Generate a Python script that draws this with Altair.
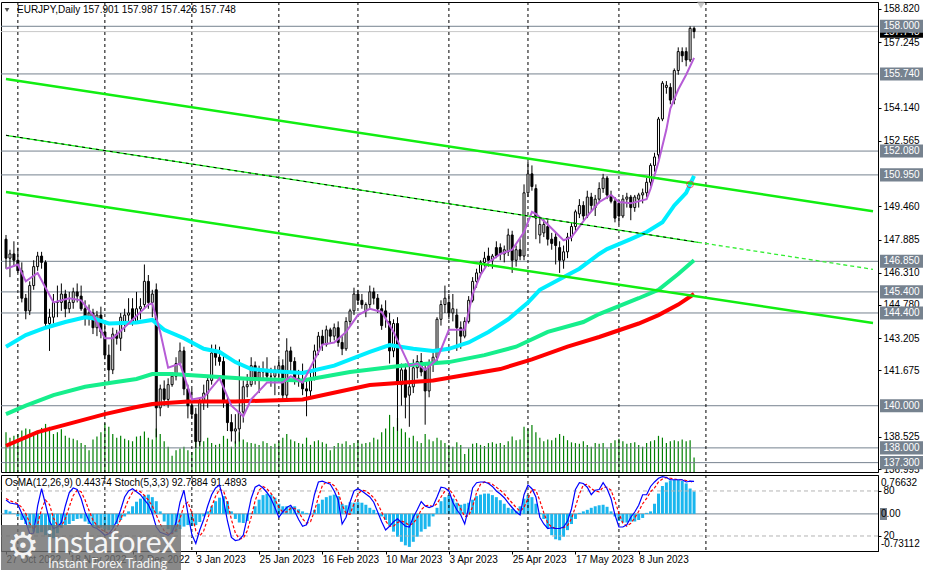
import altair as alt
import pandas as pd

FONT = "Liberation Sans"

# ---------------- data ----------------
FIRST_DAY = "2022-10-27"

OPEN = [147.9, 147.0, 147.2, 146.9, 146.4, 145.1, 144.5, 145.7, 146.6, 147.1,
        146.8, 143.9, 144.2, 144.9, 144.9, 145.3, 144.6, 144.9, 145.4, 145.2,
        144.6, 144.2, 144.4, 143.7, 144.3, 143.5, 142.4, 141.7, 143.4, 143.2,
        144.0, 144.3, 144.6, 144.0, 144.6, 144.8, 145.9, 144.9, 145.5, 139.9,
        140.8, 140.3, 141.0, 141.4, 142.0, 142.6, 140.8, 140.0, 139.6, 138.3,
        140.2, 140.6, 141.2, 142.5, 142.3, 142.1, 140.2, 139.2, 138.8, 138.9,
        139.7, 140.9, 141.0, 141.9, 141.3, 141.6, 141.7, 141.4, 141.4, 141.7,
        141.9, 140.5, 142.6, 142.1, 141.3, 141.2, 140.8, 140.7, 141.3, 142.6,
        143.3, 142.9, 143.6, 143.3, 143.7, 143.0, 142.7, 144.0, 144.5, 145.3,
        145.0, 144.5, 144.8, 145.4, 145.1, 144.6, 144.5, 144.0, 142.6, 143.9,
        141.0, 141.7, 140.5, 140.9, 141.8, 142.1, 141.7, 140.7, 142.0, 142.3,
        144.1, 144.8, 144.9, 144.4, 144.3, 143.7, 143.3, 144.0, 145.0, 145.9,
        146.3, 146.8, 147.1, 146.9, 147.5, 147.5, 147.2, 147.3, 148.1, 146.9,
        147.4, 147.1, 150.1, 151.0, 150.3, 148.1, 148.2, 148.5, 147.9, 148.0,
        147.5, 146.9, 147.3, 148.0, 148.5, 149.1, 149.5, 149.0, 149.9, 149.4,
        149.8, 150.3, 150.8, 150.0, 149.7, 149.6, 149.0, 149.8, 149.9, 149.4,
        149.8, 150.0, 150.1, 150.6, 151.4, 151.9, 153.6, 155.1, 155.1, 154.5,
        155.9, 156.8, 156.8, 156.4, 157.901]
HIGH = [148.1, 147.4, 147.8, 147.5, 146.8, 145.3, 145.9, 146.9, 147.3, 147.3,
        146.9, 144.6, 145.3, 145.7, 145.8, 145.5, 145.4, 145.6, 145.8, 145.7,
        145.0, 144.8, 144.6, 144.5, 144.7, 143.9, 142.9, 143.7, 143.6, 144.4,
        144.6, 145.1, 145.1, 145.4, 145.1, 146.7, 146.2, 145.5, 145.8, 141.0,
        141.2, 141.3, 141.6, 142.3, 143.0, 142.8, 141.0, 140.8, 139.9, 140.4,
        141.0, 141.4, 142.9, 142.9, 142.8, 142.4, 140.5, 139.6, 139.6, 142.2,
        141.2, 141.5, 142.3, 142.1, 141.9, 142.1, 142.3, 141.8, 141.9, 142.2,
        142.2, 143.2, 142.8, 142.3, 141.7, 142.0, 141.3, 141.6, 142.9, 143.5,
        143.6, 143.8, 143.7, 143.9, 144.0, 143.3, 144.2, 144.6, 145.6, 145.5,
        145.3, 144.9, 145.7, 145.6, 145.3, 144.8, 145.0, 144.4, 144.1, 144.2,
        142.0, 142.0, 141.9, 142.2, 142.4, 142.5, 142.0, 142.2, 142.5, 144.2,
        145.0, 145.7, 145.3, 145.3, 144.6, 144.0, 144.2, 145.2, 146.1, 146.5,
        146.9, 147.3, 147.5, 147.2, 147.8, 147.7, 147.6, 148.4, 148.3, 147.6,
        147.9, 150.5, 151.6, 151.4, 150.5, 148.9, 148.9, 148.8, 148.2, 148.2,
        147.8, 147.6, 148.2, 148.7, 149.3, 149.8, 149.7, 150.2, 150.1, 150.0,
        150.6, 151.0, 150.9, 150.2, 149.9, 149.8, 150.0, 150.1, 150.0, 150.0,
        150.1, 150.3, 150.8, 151.5, 152.0, 153.7, 155.4, 155.4, 155.3, 156.0,
        157.0, 157.0, 157.0, 158.0, 157.987]
LOW = [146.5, 146.1, 146.6, 146.3, 144.9, 144.1, 144.3, 145.5, 146.4, 146.5,
       143.7, 142.6, 143.9, 144.2, 144.5, 144.2, 144.4, 144.6, 144.9, 144.5,
       143.8, 143.8, 143.4, 143.3, 143.2, 142.2, 141.0, 141.5, 142.9, 142.6,
       143.5, 143.9, 143.8, 143.9, 144.1, 144.6, 144.6, 144.2, 138.5, 139.5,
       140.0, 139.9, 140.9, 141.2, 141.9, 140.5, 139.4, 139.4, 138.0, 138.1,
       139.8, 139.9, 141.0, 141.9, 141.9, 139.9, 138.8, 138.3, 138.2, 138.3,
       139.2, 140.4, 140.9, 141.0, 140.6, 141.2, 141.3, 140.9, 140.5, 141.2,
       140.2, 140.2, 141.6, 141.0, 140.9, 140.5, 139.5, 140.4, 141.2, 142.4,
       142.6, 142.8, 143.0, 143.1, 142.8, 142.4, 142.6, 143.8, 144.3, 144.8,
       144.6, 144.2, 144.6, 144.8, 144.4, 143.6, 143.7, 142.0, 142.3, 138.8,
       140.0, 139.4, 139.0, 140.6, 141.3, 141.4, 139.1, 140.4, 141.6, 142.1,
       143.8, 144.4, 144.1, 144.0, 142.6, 142.7, 143.2, 143.9, 144.9, 145.6,
       146.1, 146.6, 146.6, 146.5, 147.0, 146.9, 146.8, 147.1, 146.3, 146.6,
       146.9, 146.9, 149.9, 150.2, 147.9, 147.7, 148.0, 147.6, 147.4, 146.7,
       146.3, 146.5, 147.0, 147.8, 148.3, 148.9, 148.8, 148.9, 149.2, 149.0,
       149.6, 150.1, 149.8, 149.6, 148.7, 148.6, 148.9, 149.4, 148.8, 149.2,
       149.4, 149.6, 149.9, 150.4, 151.1, 151.7, 153.5, 154.8, 154.3, 154.3,
       155.7, 156.3, 156.1, 156.3, 157.426]
CLOSE = [147.0, 147.2, 146.9, 146.4, 145.1, 144.5, 145.7, 146.6, 147.1, 146.8,
         143.9, 144.2, 144.9, 144.9, 145.3, 144.6, 144.9, 145.4, 145.2, 144.6,
         144.2, 144.4, 143.7, 144.3, 143.5, 142.4, 141.7, 143.4, 143.2, 144.2,
         144.3, 144.4, 144.0, 144.6, 144.7, 145.9, 144.9, 145.3, 139.9, 140.8,
         140.3, 141.0, 141.4, 142.0, 142.6, 140.8, 140.0, 139.6, 138.3, 140.2,
         140.6, 141.2, 142.5, 142.3, 142.1, 140.2, 139.2, 138.8, 138.9, 139.7,
         140.9, 141.0, 141.9, 141.3, 141.6, 141.7, 141.4, 141.4, 141.7, 141.9,
         140.5, 142.6, 142.1, 141.3, 141.2, 140.8, 140.7, 141.3, 142.6, 143.3,
         142.9, 143.6, 143.3, 143.7, 143.0, 142.7, 144.0, 144.5, 145.3, 145.0,
         144.8, 144.8, 145.4, 145.1, 144.6, 143.8, 144.2, 142.6, 143.9, 141.1,
         141.7, 140.4, 140.9, 141.8, 142.1, 141.6, 140.7, 142.0, 142.3, 144.1,
         144.8, 145.1, 144.4, 144.6, 143.7, 143.3, 144.0, 145.0, 145.9, 146.3,
         146.8, 147.0, 146.9, 147.1, 147.1, 147.2, 147.4, 148.1, 146.9, 147.4,
         147.1, 150.1, 151.0, 150.4, 148.9, 148.6, 148.6, 147.9, 147.7, 147.6,
         146.9, 147.3, 148.0, 148.5, 149.2, 149.5, 149.0, 149.9, 149.5, 149.8,
         150.3, 150.8, 150.0, 149.7, 148.9, 149.0, 149.8, 149.9, 149.4, 149.9,
         150.0, 150.1, 150.6, 151.4, 151.8, 153.6, 155.3, 155.2, 154.5, 155.9,
         156.8, 156.6, 156.4, 157.9, 157.748]
VOLUME = [110, 95, 100, 105, 115, 120, 118, 100, 112, 122,
          133, 125, 105, 110, 118, 100, 95, 92, 88, 80,
          75, 60, 90, 98, 110, 135, 125, 105, 95, 100,
          92, 88, 85, 98, 100, 112, 95, 90, 120, 105,
          85, 70, 45, 60, 65, 70, 60, 55, 95, 90,
          85, 95, 80, 75, 78, 100, 92, 70, 85, 110,
          90, 82, 80, 78, 75, 85, 80, 72, 78, 85,
          95, 105, 90, 85, 80, 78, 95, 75, 85, 88,
          82, 78, 60, 72, 80, 78, 85, 75, 80, 88,
          78, 80, 82, 95, 90, 110, 120, 158, 125, 150,
          120, 110, 95, 100, 85, 80, 105, 90, 85, 95,
          88, 80, 75, 70, 82, 75, 50, 65, 78, 80,
          75, 72, 80, 82, 78, 80, 75, 85, 98, 88,
          90, 125, 120, 130, 110, 95, 85, 90, 88, 95,
          105, 100, 88, 82, 80, 78, 85, 75, 70, 80,
          78, 80, 65, 80, 88, 92, 85, 78, 80, 82,
          75, 70, 80, 85, 88, 100, 95, 80, 85, 88,
          85, 90, 85, 88, 40]
OSMA = [0.08, 0.05, 0.01, -0.05, -0.12, -0.2, -0.28, -0.35, -0.38, -0.36,
        -0.42, -0.5, -0.48, -0.38, -0.28, -0.22, -0.2, -0.14, -0.1, -0.09,
        -0.15, -0.2, -0.25, -0.28, -0.27, -0.3, -0.32, -0.27, -0.2, -0.12,
        -0.05, 0.05, 0.15, 0.24, 0.3, 0.36, 0.38, 0.33, 0.25, 0.05,
        -0.15, -0.3, -0.38, -0.36, -0.3, -0.25, -0.22, -0.24, -0.22, -0.16,
        -0.05, 0.05, 0.15, 0.25, 0.32, 0.35, 0.25, 0.05, -0.1, -0.17,
        -0.18, -0.14, 0.02, 0.15, 0.28, 0.37, 0.4, 0.38, 0.32, 0.2,
        0.15, 0.15, 0.14, 0.15, 0.09, 0.05, 0.02, 0.0, 0.08, 0.2,
        0.28, 0.33, 0.36, 0.38, 0.35, 0.2, 0.17, 0.23, 0.22, 0.23,
        0.22, 0.18, 0.12, 0.08, 0.02, -0.05, -0.12, -0.22, -0.35, -0.45,
        -0.55, -0.62, -0.65, -0.55, -0.45, -0.35, -0.3, -0.25, -0.05, 0.12,
        0.25, 0.33, 0.37, 0.3, 0.22, 0.18, 0.2, 0.22, 0.28, 0.35,
        0.38, 0.4, 0.4, 0.37, 0.33, 0.27, 0.2, 0.12, 0.1, 0.06,
        0.15, 0.3, 0.37, 0.33, 0.2, 0.02, -0.1, -0.28, -0.42, -0.5,
        -0.52, -0.45, -0.32, -0.2, -0.1, 0.02, 0.05, 0.08, 0.12, 0.15,
        0.17, 0.18, 0.14, 0.05, -0.05, -0.14, -0.17, -0.17, -0.15, -0.15,
        -0.12, -0.08, 0.02, 0.05, 0.2, 0.4, 0.55, 0.62, 0.66, 0.67,
        0.67, 0.65, 0.6, 0.5, 0.44374]
STOCH_MAIN = [68, 64, 63, 62, 50, 39, 23, 24, 60, 83,
              62, 40, 30, 32, 38, 60, 78, 84, 82, 70,
              52, 40, 32, 30, 26, 21, 23, 30, 40, 55,
              72, 80, 83, 79, 75, 68, 62, 50, 32, 25,
              23, 21, 25, 38, 65, 81, 50, 22, 10, 28,
              42, 60, 75, 84, 88, 68, 40, 18, 14, 15,
              21, 45, 70, 85, 88, 84, 78, 70, 58, 45,
              52, 58, 61, 53, 42, 33, 35, 50, 75, 92,
              93, 91, 89, 80, 68, 36, 45, 65, 80, 83,
              80, 76, 72, 65, 52, 39, 28, 33, 39, 43,
              38, 33, 32, 45, 55, 66, 60, 58, 60, 72,
              85, 84, 80, 65, 55, 48, 36, 58, 84, 91,
              92, 92, 90, 86, 80, 76, 71, 64, 58, 52,
              48, 75, 88, 83, 72, 45, 36, 30, 31, 30,
              30, 32, 40, 56, 82, 91, 90, 85, 75, 81,
              82, 91, 83, 70, 48, 32, 32, 35, 45, 52,
              61, 75, 75, 86, 92, 97, 99, 98, 95, 95,
              95, 95, 92, 93, 92.7884]
STOCH_SIGNAL = [70, 67, 65, 63, 58, 50, 37, 29, 36, 56,
                68, 62, 44, 34, 33, 43, 59, 74, 81, 79,
                68, 54, 41, 34, 29, 26, 23, 25, 31, 42,
                56, 69, 78, 81, 79, 74, 68, 60, 48, 36,
                27, 23, 23, 28, 43, 61, 65, 51, 27, 20,
                27, 43, 59, 73, 82, 80, 65, 42, 24, 16,
                17, 27, 45, 67, 81, 86, 83, 77, 69, 58,
                52, 52, 57, 57, 52, 43, 37, 39, 53, 72,
                87, 92, 91, 87, 79, 61, 50, 49, 63, 76,
                81, 80, 76, 71, 63, 52, 40, 33, 33, 38,
                40, 38, 34, 37, 44, 55, 60, 61, 59, 63,
                72, 80, 83, 76, 67, 56, 46, 47, 59, 78,
                89, 92, 91, 89, 85, 81, 76, 70, 64, 58,
                53, 58, 70, 82, 81, 67, 51, 37, 32, 30,
                30, 31, 34, 43, 59, 76, 88, 89, 83, 80,
                79, 85, 85, 81, 67, 50, 37, 33, 37, 44,
                53, 63, 70, 79, 84, 92, 96, 98, 97, 96,
                95, 95, 94, 93, 91.4893]

# moving averages, read at sample bars
PURPLE_IDX = [0, 3, 5, 8, 12, 16, 19, 22, 25, 27, 31, 36, 37, 39, 41, 44, 47, 50, 54, 57,
              60, 62, 66, 70, 72, 75, 80, 83, 86, 89, 92, 95, 98, 102, 104, 106, 109, 112,
              116, 117, 118, 120, 122, 125, 128, 131, 133, 134, 137, 141, 143, 147, 150,
              153, 155, 158, 162, 163, 165, 167, 168, 170, 172, 174]
PURPLE_VAL = [146.5, 146.7, 145.9, 146.3, 144.9, 145.1, 145.0, 144.3, 143.2, 143.2, 143.9,
              144.8, 144.85, 143.5, 141.8, 142.0, 140.3, 140.4, 141.3, 140.0, 139.5, 140.3,
              141.1, 141.1, 141.4, 141.1, 142.9, 143.0, 143.5, 144.3, 144.6, 144.45, 143.5,
              141.9, 142.0, 141.7, 142.2, 143.6, 143.6, 144.45, 145.3, 146.2, 146.8, 147.2,
              147.4, 148.24, 149.2, 149.1, 148.6, 147.85, 148.0, 149.0, 149.66, 150.0,
              149.66, 149.6, 149.8, 150.3, 151.56, 153.1, 154.1, 155.0, 155.7, 156.5]
CYAN_IDX = [0, 5, 10, 15, 20, 22, 26, 33, 37, 40, 45, 50, 54, 58, 62, 67, 75, 83, 92, 97,
            103, 108, 112, 117, 122, 127, 132, 135, 140, 145, 150, 152, 158, 162, 166, 169,
            172, 174]
CYAN_VAL = [142.8, 143.35, 143.7, 143.97, 144.2, 144.15, 143.9, 143.95, 144.07, 143.6, 143.2,
            142.7, 142.55, 142.07, 141.74, 141.65, 141.55, 141.9, 142.55, 142.88, 142.7,
            142.6, 142.7, 143.0, 143.5, 144.1, 144.9, 145.5, 146.0, 146.5, 147.2, 147.43,
            147.9, 148.24, 148.7, 149.5, 150.1, 150.9]
GREEN_IDX = [0, 5, 12, 20, 27, 33, 37, 42, 47, 54, 62, 75, 87, 100, 112, 121, 129, 137, 146,
             150, 160, 165, 170, 174]
GREEN_VAL = [139.6, 140.0, 140.5, 140.9, 141.1, 141.27, 141.5, 141.5, 141.45, 141.36, 141.27,
             141.2, 141.6, 141.9, 142.07, 142.4, 142.8, 143.5, 143.97, 144.35, 145.1, 145.5,
             146.25, 146.9]
RED_IDX = [0, 8, 17, 25, 33, 37, 46, 58, 75, 92, 108, 125, 133, 142, 150, 160, 165, 170, 174]
RED_VAL = [138.1, 138.75, 139.2, 139.6, 139.94, 140.08, 140.2, 140.2, 140.3, 140.98, 141.2,
           141.74, 142.2, 142.8, 143.26, 143.9, 144.3, 144.8, 145.3]

# trend channel: price at the left and right edge of the view
TREND_UPPER = [155.50, 149.23]
TREND_MID = [152.83, 146.47]
TREND_LOWER = [150.14, 143.92]
MARKER = [173, 150.5]

LEVELS = [158.000, 155.740, 152.080, 150.950, 146.850, 145.400, 144.400, 140.000, 138.000, 137.300]
BID = 157.748
PRICE_TICKS = [158.820, 157.245, 154.140, 152.565, 149.460, 147.885, 146.310, 144.780,
               143.205, 141.675, 138.525, 136.995]
TICK_DATES = ["2022-10-27", "2022-11-18", "2022-12-12", "2023-01-03", "2023-01-25", "2023-02-16",
              "2023-03-10", "2023-04-03", "2023-04-25", "2023-05-17", "2023-06-08"]
TICK_LABELS = ["27 Oct 2022", "18 Nov 2022", "12 Dec 2022", "3 Jan 2023", "25 Jan 2023",
               "16 Feb 2023", "10 Mar 2023", "3 Apr 2023", "25 Apr 2023", "17 May 2023",
               "8 Jun 2023"]
MONTH_GRID_DATES = ["2022-11-01", "2022-12-01", "2023-01-02", "2023-02-01", "2023-03-01",
                    "2023-04-03", "2023-05-01", "2023-06-01", "2023-07-03"]
TITLE = "EURJPY,Daily  157.901 157.987 157.426 157.748"
SUBTITLE = "OsMA(12,26,9) 0.44374  Stoch(5,3,3) 92.7884 91.4893"

# ---------------- layout ----------------
W = 877
H_MAIN = 470
H_LOW = 76
X_MAX = W / 4.0
P_DOMAIN = [136.856, 159.152]
OSMA_DOMAIN = [-0.73112, 0.76632]
STOCH_DOMAIN = [0, 101.3]
LEVEL_COLOR = "#76828f"

calendar = pd.bdate_range(FIRST_DAY, "2023-09-29")
pos = {d.strftime("%Y-%m-%d"): k for k, d in enumerate(calendar)}
tick_idx = [pos[d] for d in TICK_DATES]
grid_idx = [pos[d] for d in MONTH_GRID_DATES]
label_expr = "".join(f"datum.value == {k} ? '{t}' : " for k, t in zip(tick_idx, TICK_LABELS)) + "''"

n = len(OPEN)
bars = pd.DataFrame({"i": list(range(n)), "o": OPEN, "h": HIGH, "l": LOW, "c": CLOSE,
                     "v": VOLUME, "osma": OSMA, "k": STOCH_MAIN, "d": STOCH_SIGNAL})
bars["up"] = bars["c"] >= bars["o"]

xscale = alt.Scale(domain=[0, X_MAX], nice=False, zero=False)
pscale = alt.Scale(domain=P_DOMAIN, nice=False, zero=False)
price_axis = alt.Axis(orient="right", values=PRICE_TICKS, format=".3f", title=None, grid=False,
                      labelFontSize=10, labelFont=FONT, labelColor="black", tickSize=3,
                      tickColor="black", domainColor="black", labelPadding=2,
                      labelOverlap=False, labelFlush=False)


def XM(field="i"):
    return alt.X(f"{field}:Q", scale=xscale, axis=None)


def YP(field):
    return alt.Y(f"{field}:Q", scale=pscale, axis=price_axis)


# ---------- main panel ----------
levels_df = pd.DataFrame({"p": LEVELS})
bid_df = pd.DataFrame({"p": [BID]})
grid_df = pd.DataFrame({"i": grid_idx})

level_lines = alt.Chart(levels_df).mark_rule(color=LEVEL_COLOR, strokeWidth=1).encode(y=YP("p"))
bid_line = alt.Chart(bid_df).mark_rule(color="#c8c8c8", strokeWidth=1).encode(y=YP("p"))
grid_lines = alt.Chart(grid_df).mark_rule(color="black", strokeWidth=1, strokeDash=[3, 3]).encode(x=XM("i"))

wicks = alt.Chart(bars).mark_rule(color="black", strokeWidth=1, clip=True).encode(
    x=XM("i"), y=YP("l"), y2=alt.Y2("h:Q"))
bodies = alt.Chart(bars).mark_bar(size=2, stroke="black", strokeWidth=1, clip=True).encode(
    x=XM("i"), y=YP("o"), y2=alt.Y2("c:Q"),
    fill=alt.condition("datum.up", alt.value("white"), alt.value("black")))


def ma_line(idx, vals, color, width):
    df = pd.DataFrame({"i": idx, "p": vals})
    return alt.Chart(df).mark_line(color=color, strokeWidth=width, clip=True).encode(
        x=XM("i"), y=YP("p"))


ma_red = ma_line(RED_IDX, RED_VAL, "#ff0000", 4)
ma_green = ma_line(GREEN_IDX, GREEN_VAL, "#16ee8c", 4)
ma_cyan = ma_line(CYAN_IDX, CYAN_VAL, "#00eeff", 4)
ma_purple = ma_line(PURPLE_IDX, PURPLE_VAL, "#b65cd6", 2)


def trend(vals, i0, i1, color, width, dash=None):
    a, b = vals
    p0 = a + (b - a) * i0 / X_MAX
    p1 = a + (b - a) * i1 / X_MAX
    df = pd.DataFrame({"i": [i0, i1], "p": [p0, p1]})
    kw = dict(color=color, strokeWidth=width, clip=True)
    if dash:
        kw["strokeDash"] = dash
    return alt.Chart(df).mark_line(**kw).encode(x=XM("i"), y=YP("p"))


SPLIT = 175
tr_upper = trend(TREND_UPPER, 0, X_MAX, "#11ee11", 2.5)
tr_lower = trend(TREND_LOWER, 0, X_MAX, "#11ee11", 2.5)
tr_mid_a = trend(TREND_MID, 0, SPLIT, "#11ee11", 1.3)
tr_mid_b = trend(TREND_MID, 0, SPLIT, "black", 1, [3, 4])
tr_mid_c = trend(TREND_MID, SPLIT, X_MAX, "#33ee33", 1.3, [4, 3])

marker = alt.Chart(pd.DataFrame({"i": [MARKER[0]], "p": [MARKER[1]]})).mark_point(
    shape="circle", size=45, color="#ff2020", filled=False, strokeWidth=1).encode(x=XM("i"), y=YP("p"))

# right-hand price boxes
bid_box = alt.Chart(bid_df).transform_calculate(
    top="datum.p + 0.29", bot="datum.p - 0.29").mark_rect(color="black").encode(
    x=alt.value(879), x2=alt.value(922), y=YP("top"), y2=alt.Y2("bot:Q"))
bid_txt = alt.Chart(bid_df).transform_calculate(t="format(datum.p, '.3f')").mark_text(
    color="white", fontSize=10, font=FONT, align="center", baseline="middle").encode(
    x=alt.value(900.5), y=YP("p"), text="t:N")
lvl_box = alt.Chart(levels_df).transform_calculate(
    top="datum.p + 0.31", bot="datum.p - 0.31").mark_rect(color=LEVEL_COLOR).encode(
    x=alt.value(879), x2=alt.value(922), y=YP("top"), y2=alt.Y2("bot:Q"))
lvl_txt = alt.Chart(levels_df).transform_calculate(t="format(datum.p, '.3f')").mark_text(
    color="white", fontSize=10, font=FONT, align="center", baseline="middle").encode(
    x=alt.value(900.5), y=YP("p"), text="t:N")

title_df = pd.DataFrame({"t": [TITLE]})
title_txt = alt.Chart(title_df).mark_text(
    color="black", fontSize=10, font=FONT, align="left", baseline="middle").encode(
    x=alt.value(16), y=alt.value(8), text="t:N")
tri = alt.Chart(pd.DataFrame({"t": ["a"]})).mark_point(
    shape="triangle-down", filled=True, color="black", size=22).encode(
    x=alt.value(6), y=alt.value(8))
shift_mark = alt.Chart(pd.DataFrame({"t": ["a"]})).mark_point(
    shape="triangle-down", filled=True, color="#b0b0b0", size=70).encode(
    x=alt.value(700), y=alt.value(3))

vol_scale = alt.Scale(domain=[0, 1300], nice=False, zero=True)
volume = alt.Chart(bars).mark_bar(size=1.2, color="#008000", clip=True).encode(
    x=XM("i"), y=alt.Y("v:Q", scale=vol_scale, axis=None, stack=None))

price_group = alt.layer(
    bid_line, level_lines, grid_lines, wicks, bodies, ma_red, ma_green, ma_cyan, ma_purple,
    tr_upper, tr_lower, tr_mid_a, tr_mid_b, tr_mid_c, marker,
    bid_box, bid_txt, lvl_box, lvl_txt, title_txt, tri, shift_mark)

main = alt.layer(volume, price_group).resolve_scale(y="independent").properties(
    width=W, height=H_MAIN)

# ---------- lower panel ----------
x_axis = alt.Axis(orient="bottom", values=tick_idx, labelExpr=label_expr, title=None, grid=False,
                  labelFontSize=10, labelFont=FONT, labelColor="black", labelAlign="left",
                  labelPadding=0, tickSize=3, tickColor="black", domainColor="black",
                  labelOverlap=False, labelFlush=False, labelBound=False)


def XL(field="i"):
    return alt.X(f"{field}:Q", scale=xscale, axis=x_axis)


oscale = alt.Scale(domain=OSMA_DOMAIN, nice=False, zero=False)
sscale = alt.Scale(domain=STOCH_DOMAIN, nice=False, zero=False)
stoch_axis = alt.Axis(orient="right", values=[20, 80], title=None, grid=False, labelFontSize=10,
                      labelFont=FONT, labelColor="black", tickSize=3, tickColor="black",
                      domainColor="black", labelPadding=2, labelOverlap=False, labelFlush=False)

zero_df = pd.DataFrame({"z": [0.0]})
osma_zero = alt.Chart(zero_df).mark_rule(color=LEVEL_COLOR, strokeWidth=1).encode(
    y=alt.Y("z:Q", scale=oscale, axis=None))
osma_bars = alt.Chart(bars).mark_bar(size=3, color="#1ab6ee", clip=True).encode(
    x=XL("i"), y=alt.Y("osma:Q", scale=oscale, axis=None), y2=alt.datum(0))
grid_low = alt.Chart(grid_df).mark_rule(color="black", strokeWidth=1, strokeDash=[3, 3]).encode(
    x=XL("i"))
sub_txt = alt.Chart(pd.DataFrame({"t": [SUBTITLE]})).mark_text(
    color="black", fontSize=10, font=FONT, align="left", baseline="middle").encode(
    x=alt.value(4), y=alt.value(8), text="t:N")
side_df = pd.DataFrame({"t": ["0.76632", "0.00", "-0.73112"], "yy": [8, 39, 69]})
zero_box = alt.Chart(pd.DataFrame({"t": ["a"]})).mark_rect(color=LEVEL_COLOR).encode(
    x=alt.value(879), x2=alt.value(886), y=alt.value(33), y2=alt.value(45))
side_txt = alt.Chart(side_df).mark_text(
    color="black", fontSize=10, font=FONT, align="left", baseline="middle").encode(
    x=alt.value(880), y=alt.Y("yy:Q", scale=None), text="t:N")

stoch_lv = alt.Chart(pd.DataFrame({"s": [20, 80]})).mark_rule(
    color="#b4b4b4", strokeWidth=1, strokeDash=[4, 3]).encode(
    y=alt.Y("s:Q", scale=sscale, axis=stoch_axis))
stoch_k = alt.Chart(bars).mark_line(color="#0000ff", strokeWidth=1.2, clip=True).encode(
    x=XL("i"), y=alt.Y("k:Q", scale=sscale, axis=stoch_axis))
stoch_d = alt.Chart(bars).mark_line(color="#ff0000", strokeWidth=1.2, strokeDash=[3, 2],
                                    clip=True).encode(
    x=XL("i"), y=alt.Y("d:Q", scale=sscale, axis=stoch_axis))

# logo overlay (bottom-left)
logo_box = alt.Chart(pd.DataFrame({"t": ["a"]})).mark_rect(color="#6f6f6f", opacity=0.82).encode(
    x=alt.value(0), x2=alt.value(180), y=alt.value(50), y2=alt.value(97))
logo_icon = alt.Chart(pd.DataFrame({"t": ["\u2699"]})).mark_text(
    color="white", fontSize=36, font="DejaVu Sans", align="center", baseline="middle",
    opacity=0.9).encode(x=alt.value(22), y=alt.value(72), text="t:N")
logo_main = alt.Chart(pd.DataFrame({"t": ["instaforex"]})).mark_text(
    color="white", fontSize=30, font="Lato", align="left", baseline="alphabetic",
    opacity=0.92).encode(x=alt.value(45), y=alt.value(78), text="t:N")
logo_sub = alt.Chart(pd.DataFrame({"t": ["Instant Forex Trading"]})).mark_text(
    color="white", fontSize=13, font="Lato", align="left", baseline="middle",
    opacity=0.92).encode(x=alt.value(47), y=alt.value(89), text="t:N")

osma_group = alt.layer(osma_zero, osma_bars, grid_low, zero_box, side_txt, sub_txt)
stoch_group = alt.layer(stoch_lv, stoch_d, stoch_k, logo_box, logo_icon, logo_main, logo_sub)
lower = alt.layer(osma_group, stoch_group).resolve_scale(y="independent").properties(
    width=W, height=H_LOW)

chart = alt.vconcat(main, lower, spacing=3, bounds="flush").properties(
    padding=0, background="white").configure_view(stroke="black", strokeWidth=1)

chart.save("out.html", embed_options={"renderer": "svg", "actions": False})
